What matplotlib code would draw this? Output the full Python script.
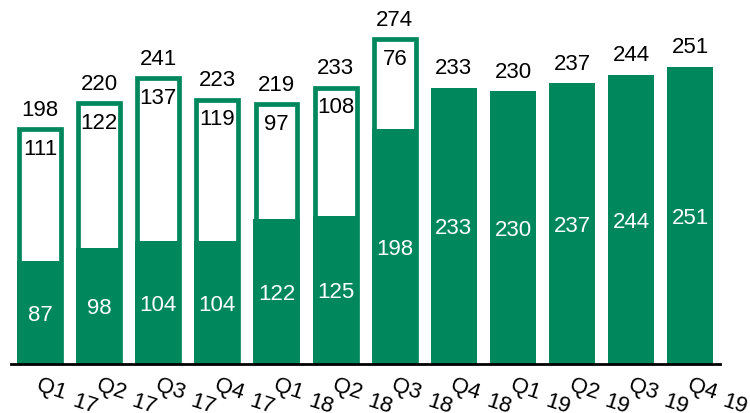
import matplotlib.pyplot as plt

quarters = ["Q1", "Q2", "Q3", "Q4", "Q1", "Q2", "Q3", "Q4", "Q1", "Q2", "Q3", "Q4"]
years = ["17", "17", "17", "17", "18", "18", "18", "18", "19", "19", "19", "19"]
totals = [198, 220, 241, 223, 219, 233, 274, 233, 230, 237, 244, 251]
base = [87, 98, 104, 104, 122, 125, 198, 233, 230, 237, 244, 251]
extra = [111, 122, 137, 119, 97, 108, 76]  # hollow part, first 7 quarters

green = "#00885C"
plt.rcParams['font.family'] = ['Liberation Sans', 'DejaVu Sans']

fig = plt.figure(figsize=(7.5, 4.14), dpi=100)
ax = fig.add_axes([11 / 750, 49 / 414, 709 / 750, 365 / 414])

x = list(range(len(quarters)))
w = 0.78
n_hollow = len(extra)

# hollow outlined bars for totals (first 7)
ax.bar(x[:n_hollow], totals[:n_hollow], width=w - 0.07, color="white",
       edgecolor=green, linewidth=3.4, zorder=2)
# filled part
ax.bar(x, base, width=w, color=green, edgecolor="none", zorder=3)

for i in x:
    # total on top
    ax.annotate(str(totals[i]), (i, totals[i]), xytext=(0, 20), textcoords="offset pixels",
                ha="center", va="center", fontsize=16, color="black")
    # base value inside the fill
    ax.annotate(str(base[i]), (i, base[i] / 2), xytext=(0, -2), textcoords="offset pixels",
                ha="center", va="center", fontsize=16, color="white", zorder=5)
    if i < n_hollow:
        ax.annotate(str(extra[i]), (i, totals[i]), xytext=(0, -19), textcoords="offset pixels",
                    ha="center", va="center", fontsize=16, color="black", zorder=5)
    # rotated quarter label + year below it
    ax.annotate(quarters[i], (i, 0), xytext=(1, -10), textcoords="offset pixels",
                ha="left", va="top", rotation=-18, rotation_mode="anchor",
                fontsize=16, color="black", annotation_clip=False)
    ax.annotate(years[i], (i, 0), xytext=(36, -26), textcoords="offset pixels",
                ha="left", va="top", rotation=-18, rotation_mode="anchor",
                fontsize=16, color="black", annotation_clip=False)

ax.set_xlim(-0.49, 11.5)
ax.set_ylim(0, 308)
for s in ["top", "right", "left"]:
    ax.spines[s].set_visible(False)
ax.spines["bottom"].set_linewidth(2)
ax.spines["bottom"].set_color("black")
ax.spines["bottom"].set_zorder(6)
ax.set_xticks([])
ax.set_yticks([])

fig.savefig("out.png", dpi=100)
